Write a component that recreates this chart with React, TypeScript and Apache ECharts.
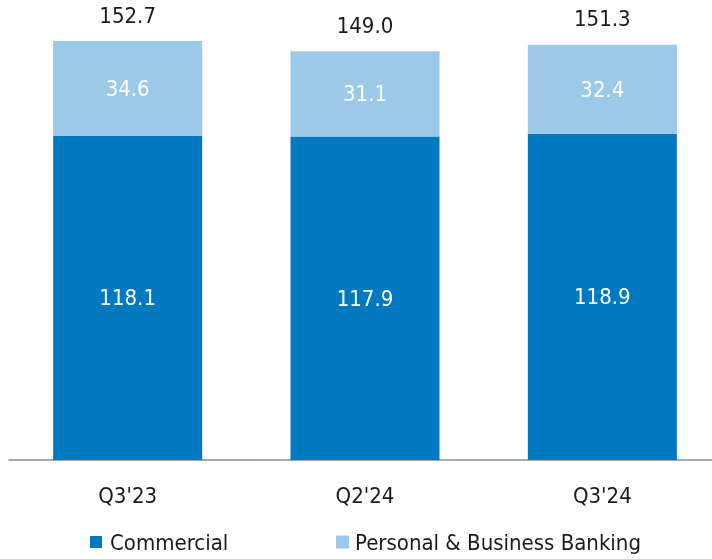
import React, { useEffect, useRef } from "react";
import * as echarts from "echarts";

const categories = ["Q3'23", "Q2'24", "Q3'24"];
const commercial = [118.1, 117.9, 118.9];
const personalBusiness = [34.6, 31.1, 32.4];
const totals = [152.7, 149.0, 151.3];

const FONT = "'DejaVu Sans Condensed', 'Liberation Sans Narrow', 'Noto Sans', sans-serif";
const DARK = "#0079C1";
const LIGHT = "#9CC9E7";

export default function App() {
  const ref = useRef<HTMLDivElement>(null);
  useEffect(() => {
    if (!ref.current) return;
    const chart = echarts.init(ref.current, null, { renderer: "svg" });
    const legendText = { fontFamily: FONT, fontSize: 22, color: "#1a1a1a", padding: [0, 0, 0, 3] };
    chart.setOption({
      animation: false,
      textStyle: { fontFamily: FONT },
      grid: { left: 9, top: 21, width: 712, height: 439, outerBoundsMode: "none", containLabel: false },
      legend: [
        {
          data: ["Commercial"],
          left: 90,
          top: 531,
          padding: 0,
          icon: "rect",
          itemWidth: 12,
          itemHeight: 12,
          textStyle: legendText,
        },
        {
          data: ["Personal & Business Banking"],
          left: 336,
          top: 531,
          padding: 0,
          icon: "rect",
          itemWidth: 13,
          itemHeight: 13,
          textStyle: { ...legendText, padding: [0, 0, 0, 1] },
        },
      ],
      xAxis: {
        type: "category",
        data: categories,
        axisLine: { show: true, lineStyle: { color: "#8c8c8c", width: 1.5 } },
        axisTick: { show: false },
        axisLabel: { margin: 24, fontSize: 22, color: "#1a1a1a", fontFamily: FONT },
      },
      yAxis: {
        type: "value",
        min: 0,
        max: 160,
        show: false,
        splitLine: { show: false },
      },
      series: [
        {
          name: "Commercial",
          type: "bar",
          stack: "total",
          barWidth: 149,
          data: commercial,
          itemStyle: { color: DARK },
          label: {
            show: true,
            position: "inside",
            color: "#ffffff",
            fontSize: 22,
            fontFamily: FONT,
            formatter: (p: any) => p.value.toFixed(1),
          },
        },
        {
          name: "Personal & Business Banking",
          type: "bar",
          stack: "total",
          barWidth: 149,
          data: personalBusiness,
          itemStyle: { color: LIGHT },
          label: {
            show: true,
            position: "inside",
            color: "#ffffff",
            fontSize: 22,
            fontFamily: FONT,
            formatter: (p: any) => p.value.toFixed(1),
          },
        },
        {
          name: "Total",
          type: "bar",
          stack: "total",
          barWidth: 149,
          data: totals.map(() => 0),
          itemStyle: { color: "transparent" },
          label: {
            show: true,
            position: "top",
            distance: 15,
            color: "#1a1a1a",
            fontSize: 22,
            fontFamily: FONT,
            formatter: (p: any) => totals[p.dataIndex].toFixed(1),
          },
        },
      ],
    });
    return () => chart.dispose();
  }, []);
  return (
    <div
      ref={ref}
      style={{ position: "fixed", left: 0, top: 0, width: 712, height: 559 }}
    />
  );
}
